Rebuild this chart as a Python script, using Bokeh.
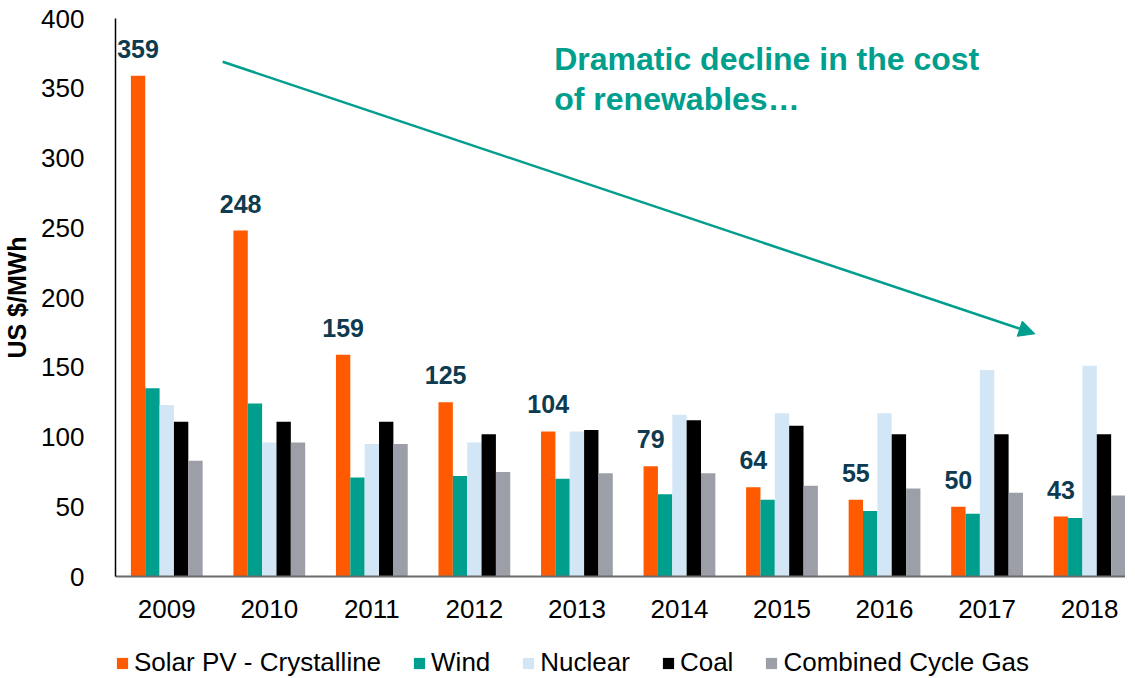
import numpy as np
from bokeh.plotting import figure
from bokeh.layouts import column
from bokeh.models import (ColumnDataSource, Range1d, FixedTicker, LabelSet, Label,
                          Arrow, NormalHead, Legend, LegendItem)
from bokeh.core.properties import value
from bokeh.transform import dodge
from bokeh.embed import file_html
from bokeh.resources import INLINE

# ---- data ----
years = ["2009", "2010", "2011", "2012", "2013", "2014", "2015", "2016", "2017", "2018"]
solar = [359, 248, 159, 125, 104, 79, 64, 55, 50, 43]
wind = [135, 124, 71, 72, 70, 59, 55, 47, 45, 42]
nuclear = [123, 96, 95, 96, 104, 116, 117, 117, 148, 151]
coal = [111, 111, 111, 102, 105, 112, 108, 102, 102, 102]
gas = [83, 96, 95, 75, 74, 74, 65, 63, 60, 58]
series_names = ["Solar PV - Crystalline", "Wind", "Nuclear", "Coal", "Combined Cycle Gas"]
y_ticks = [0, 50, 100, 150, 200, 250, 300, 350, 400]

# ---- styles ----
colors = ["#FF5A00", "#009E8C", "#D2E6F5", "#000000", "#9C9FA7"]
FONT = "Liberation Sans"
TEAL = "#009E8C"
LABEL_COLOR = "#0E3B4F"
BAR_W = 0.14
offsets = [-0.28, -0.14, 0.0, 0.14, 0.28]
keys = ["solar", "wind", "nuclear", "coal", "gas"]

x_idx = np.arange(len(years))
src = ColumnDataSource(dict(
    x=x_idx, solar=solar, wind=wind, nuclear=nuclear, coal=coal, gas=gas,
    solar_txt=[str(v) for v in solar],
))

p = figure(width=1125, height=627, output_backend="svg", toolbar_location=None,
           x_range=Range1d(-0.5, 9.35), y_range=Range1d(0, 400),
           min_border_left=106, min_border_right=0, min_border_top=18,
           min_border_bottom=51)
p.outline_line_color = None
p.xgrid.visible = False
p.ygrid.visible = False

for k, off, c in zip(keys, offsets, colors):
    p.vbar(x=dodge("x", off), top=k, width=BAR_W, source=src,
           fill_color=c, line_color=None)

# axes
p.xaxis.ticker = FixedTicker(ticks=list(x_idx))
p.xaxis.major_label_overrides = {int(i): y for i, y in zip(x_idx, years)}
p.xaxis.major_tick_line_color = None
p.xaxis.minor_tick_line_color = None
p.xaxis.axis_line_color = "#6B6B6B"
p.xaxis.axis_line_width = 2
p.xaxis.major_label_text_font = FONT
p.xaxis.major_label_text_font_size = "26px"
p.xaxis.major_label_text_color = "#000000"
p.xaxis.major_label_standoff = 17

p.yaxis.ticker = FixedTicker(ticks=y_ticks)
p.yaxis.major_tick_line_color = None
p.yaxis.minor_tick_line_color = None
p.yaxis.axis_line_color = "#000000"
p.yaxis.axis_line_width = 1.5
p.yaxis.major_label_text_font = FONT
p.yaxis.major_label_text_font_size = "26px"
p.yaxis.major_label_text_color = "#000000"
p.yaxis.major_label_standoff = 25
p.yaxis.axis_label = "US $/MWh"
p.yaxis.axis_label_text_font = FONT
p.yaxis.axis_label_text_font_size = "25px"
p.yaxis.axis_label_text_font_style = "bold"
p.yaxis.axis_label_text_color = "#000000"
p.yaxis.axis_label_standoff = 7

# data labels on solar bars
labels = LabelSet(x=dodge("x", offsets[0]), y="solar", text="solar_txt", source=src,
                  text_align="center", text_baseline="alphabetic", y_offset=18,
                  text_font=value(FONT), text_font_size="25px", text_font_style="bold",
                  text_color=LABEL_COLOR)
p.add_layout(labels)

# annotation arrow + text
ARROW = dict(x_start=0.545, y_start=369, x_end=8.467, y_end=174)
p.add_layout(Arrow(end=NormalHead(size=16, fill_color=TEAL, line_color=TEAL),
                   line_color=TEAL, line_width=2.5, **ARROW))
ANN_X = 3.779
for txt, yy in [("Dramatic decline in the cost", 371), ("of renewables\u2026", 342.5)]:
    p.add_layout(Label(x=ANN_X, y=yy, text=txt, text_font=FONT, text_font_size="32px",
                       text_font_style="bold", text_color=TEAL, text_baseline="middle",
                       text_align="left"))

# ---- legend strip below the chart (hidden copies of the bar renderers) ----
pl = figure(width=1125, height=51, output_backend="svg", toolbar_location=None,
            x_axis_type=None, y_axis_type=None, x_range=Range1d(0, 1), y_range=Range1d(0, 1),
            min_border_left=0, min_border_right=0, min_border_top=0, min_border_bottom=0)
pl.outline_line_color = None
pl.xgrid.visible = False
pl.ygrid.visible = False
leg_renderers = []
for k, c in zip(keys, colors):
    r = pl.vbar(x="x", top=k, width=BAR_W, source=src, fill_color=c, line_color=None)
    r.visible = False
    leg_renderers.append(r)
legend = Legend(items=[LegendItem(label=n, renderers=[r]) for n, r in zip(series_names, leg_renderers)],
                orientation="horizontal", location=(0, 0),
                glyph_width=14, glyph_height=14, label_standoff=5, spacing=31,
                padding=0, margin=0, border_line_color=None, background_fill_alpha=0,
                inactive_fill_alpha=0, click_policy="none",
                label_text_font=FONT, label_text_font_size="26px", label_text_color="#000000")
pl.add_layout(legend)

layout = column(p, pl, spacing=0)
open("out.html", "w").write(file_html(layout, INLINE))
